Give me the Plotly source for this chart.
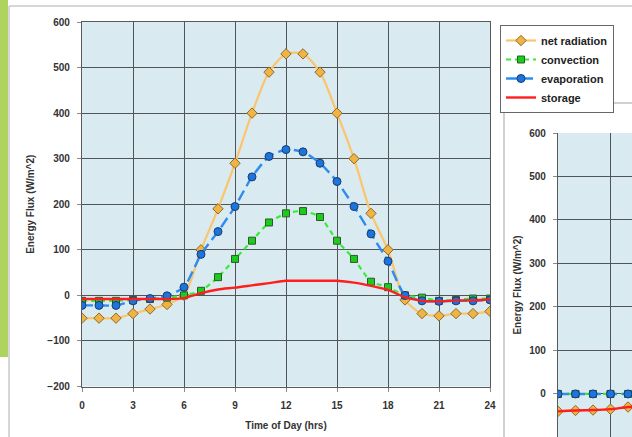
import plotly.graph_objects as go

# ---------------- data ----------------
hours = list(range(25))
net_radiation = [-50, -50, -50, -40, -30, -20, 0, 100, 190, 290, 400, 490, 530, 530,
                 490, 400, 300, 180, 100, -10, -40, -45, -40, -40, -35]
convection = [-12, -12, -12, -10, -8, -5, 0, 10, 40, 80, 120, 160, 180, 185,
              172, 120, 80, 30, 18, 0, -5, -12, -10, -7, -7]
evaporation = [-22, -22, -22, -12, -7, -1, 18, 90, 140, 195, 260, 305, 320, 315,
               290, 250, 195, 135, 75, 0, -12, -13, -12, -12, -10]
storage = [-8, -8, -8, -8, -8, -8, -6, 5, 13, 17, 22, 27, 32, 32,
           32, 32, 28, 21, 12, -4, -12, -13, -11, -11, -9]

# second (partially visible) chart
hours2 = [0, 1, 2, 3, 4, 5]
net_radiation2 = [-40, -38, -37, -35, -30, -28]
convection2 = [0, 0, 0, 0, 0, 0]
evaporation2 = [0, 0, 0, 0, 0, 0]
storage2 = [-40, -38, -37, -35, -30, -28]

x_ticks = [0, 3, 6, 9, 12, 15, 18, 21, 24]
y_ticks = [-200, -100, 0, 100, 200, 300, 400, 500, 600]

# ---------------- styles ----------------
W, H = 632, 437
BG = "#DAEAF1"
GRID = "#4f5559"
TXT = "#333333"
FONT = "Liberation Sans"

ORANGE_LINE = "#FAC56C"
ORANGE_MK = "#F0B444"
GREEN_LINE = "#33EE33"
GREEN_MK = "#1CCB1C"
BLUE_LINE = "#2E8CF0"
BLUE_MK = "#1C74DE"
RED = "#FF1E1E"

def px_x(p):
    return p / W

def px_y(p):
    return 1 - p / H

fig = go.Figure()

def add_series(x, y, xa, ya, show):
    fig.add_trace(go.Scatter(
        x=x, y=y[0], name="net radiation", mode="lines+markers",
        line=dict(color=ORANGE_LINE, width=2.2, shape="spline", smoothing=0.8),
        marker=dict(symbol="diamond", size=8, color=ORANGE_MK,
                    line=dict(color="#8c6a2c", width=1)),
        xaxis=xa, yaxis=ya, showlegend=show))
    fig.add_trace(go.Scatter(
        x=x, y=y[1], name="convection", mode="lines+markers",
        line=dict(color=GREEN_LINE, width=2.2, dash="5px,4px", shape="spline", smoothing=0.6),
        marker=dict(symbol="square", size=7, color=GREEN_MK,
                    line=dict(color="#2b5a2b", width=1)),
        xaxis=xa, yaxis=ya, showlegend=show))
    fig.add_trace(go.Scatter(
        x=x, y=y[2], name="evaporation", mode="lines+markers",
        line=dict(color=BLUE_LINE, width=2.4, dash="11px,5px", shape="spline", smoothing=0.6),
        marker=dict(symbol="circle", size=8, color=BLUE_MK,
                    line=dict(color="#1b3c6c", width=1)),
        xaxis=xa, yaxis=ya, showlegend=show))
    fig.add_trace(go.Scatter(
        x=x, y=y[3], name="storage", mode="lines",
        line=dict(color=RED, width=2.4, shape="spline", smoothing=0.8),
        xaxis=xa, yaxis=ya, showlegend=show))

add_series(hours, [net_radiation, convection, evaporation, storage], "x", "y", True)
add_series(hours2, [net_radiation2, convection2, evaporation2, storage2], "x2", "y2", False)

tickfont = dict(family=FONT, size=10, color=TXT, weight="bold")
titlefont = dict(family=FONT, size=10, color=TXT, weight="bold")

axis_common = dict(
    showgrid=True, gridcolor=GRID, gridwidth=1.2,
    zeroline=False, showline=True, linecolor="#5a5a5a", linewidth=1.2,
    ticks="outside", ticklen=4, tickcolor="#8a8a8a",
    tickfont=tickfont, automargin=False,
)

fig.update_layout(
    width=W, height=H,
    autosize=False,
    margin=dict(l=0, r=0, t=0, b=0, pad=0),
    paper_bgcolor="white",
    plot_bgcolor=BG,
    font=dict(family=FONT, color=TXT),
    xaxis=dict(domain=[px_x(82), px_x(490)], range=[0, 24], tickvals=x_ticks,
               mirror=True, anchor="y", ticklabelstandoff=5,
               title=dict(text="Time of Day (hrs)", font=titlefont, standoff=12),
               **axis_common),
    yaxis=dict(domain=[px_y(386.5), px_y(22)], range=[-200, 600], tickvals=y_ticks,
               mirror=True, anchor="x", ticklabelstandoff=5,
               title=dict(text="Energy Flux (W/m^2)", font=titlefont, standoff=10),
               **axis_common),
    xaxis2=dict(domain=[px_x(558), 1.0], range=[0, 74 / 17.5], tickvals=x_ticks,
                anchor="y2", showgrid=True, gridcolor=GRID, gridwidth=1.2,
                zeroline=False, showline=False, showticklabels=False, ticks="",
                automargin=False),
    yaxis2=dict(domain=[0, px_y(133)], range=[-99, 600], tickvals=y_ticks,
                anchor="x2", ticklabelstandoff=5,
                title=dict(text="Energy Flux (W/m^2)", font=titlefont, standoff=5),
                **axis_common),
    legend=dict(x=px_x(500), y=px_y(25), xanchor="left", yanchor="top",
                bgcolor="white", bordercolor="#666666", borderwidth=1,
                font=dict(family=FONT, size=11, color="#222222", weight="bold"),
                tracegroupgap=0, itemwidth=30,
                entrywidth=80, entrywidthmode="pixels"),
    shapes=[
        # green slide bar at the left
        dict(type="rect", xref="paper", yref="paper", layer="below",
             x0=0, x1=px_x(8), y0=px_y(357), y1=1,
             fillcolor="#AED45E", line=dict(width=0)),
        # chart frame lines (slide)
        dict(type="line", xref="paper", yref="paper", layer="below",
             x0=px_x(9), x1=px_x(9), y0=0, y1=px_y(6),
             line=dict(color="#C8C8C8", width=1.5)),
        dict(type="line", xref="paper", yref="paper", layer="below",
             x0=px_x(9), x1=1, y0=px_y(6), y1=px_y(6),
             line=dict(color="#C8C8C8", width=1.5)),
        # second chart panel frame
        dict(type="line", xref="paper", yref="paper", layer="below",
             x0=px_x(504), x1=px_x(504), y0=0, y1=px_y(103),
             line=dict(color="#C0C0C0", width=1.5)),
        dict(type="line", xref="paper", yref="paper", layer="below",
             x0=px_x(504), x1=1, y0=px_y(103), y1=px_y(103),
             line=dict(color="#C0C0C0", width=1.5)),
    ],
)

fig.write_html("out.html")
